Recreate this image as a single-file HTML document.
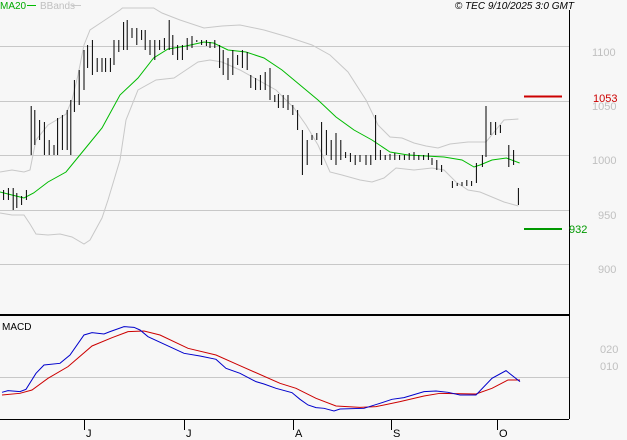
<!DOCTYPE html>
<html><head><meta charset="utf-8"><style>
html,body{margin:0;padding:0;background:#f7f7f7}
svg{display:block}
text{font-family:"Liberation Sans",sans-serif}
</style></head><body>
<svg width="627" height="440" viewBox="0 0 627 440" xmlns="http://www.w3.org/2000/svg">
<rect width="627" height="440" fill="#f7f7f7"/>
<g stroke="#c8c8c8" stroke-width="1" shape-rendering="crispEdges">
<line x1="0" y1="46.5" x2="569" y2="46.5"/>
<line x1="0" y1="101.5" x2="569" y2="101.5"/>
<line x1="0" y1="155.5" x2="569" y2="155.5"/>
<line x1="0" y1="210.5" x2="569" y2="210.5"/>
<line x1="0" y1="264.5" x2="569" y2="264.5"/>
<line x1="0" y1="377.5" x2="569" y2="377.5"/>
</g>
<line x1="569.5" y1="10" x2="569.5" y2="419" stroke="#000" shape-rendering="crispEdges"/>
<line x1="0" y1="315" x2="569" y2="315" stroke="#000" stroke-width="2" shape-rendering="crispEdges"/>
<line x1="0" y1="419.5" x2="569" y2="419.5" stroke="#000" shape-rendering="crispEdges"/>
<g stroke="#000" shape-rendering="crispEdges">
<line x1="84.5" y1="419" x2="84.5" y2="430"/><line x1="184.5" y1="419" x2="184.5" y2="430"/>
<line x1="293.5" y1="419" x2="293.5" y2="430"/><line x1="391.5" y1="419" x2="391.5" y2="430"/>
<line x1="497.5" y1="419" x2="497.5" y2="430"/>
</g>
<g font-size="11" fill="#000">
<text x="86" y="437">J</text><text x="186" y="437">J</text><text x="295" y="437">A</text><text x="393" y="437">S</text><text x="499" y="437">O</text>
</g>
<g transform="scale(1.2,1)" fill="none" stroke-width="1">
<polyline vector-effect="non-scaling-stroke" stroke="#c8c8c8" points="0,172 10,170 20,172 25,170 30,140 40,125 50,118 55,114 60,100 65,75 70,45 75,30 85,22 100,10 102,8 128,8 135,13 150,20 170,28 185,26 200,25 220,30 240,37 260,45 275,55 290,72 305,100 315,125 325,137 335,138 345,143 355,146 365,148 375,144 390,142 405,142 420,120 432,119"/>
<polyline vector-effect="non-scaling-stroke" stroke="#c8c8c8" points="0,213 10,215 20,215 25,224 30,234 40,235 50,234 60,237 70,244 75,240 85,218 90,200 95,180 100,160 105,120 115,90 130,80 145,78 155,70 165,62 175,60 185,62 200,70 215,80 230,90 245,108 255,125 265,145 275,172 285,175 300,180 310,182 320,178 330,168 345,170 360,168 370,170 380,182 390,190 400,192 410,197 420,202 432,206"/>
<polyline vector-effect="non-scaling-stroke" stroke="#00bb00" points="0,192 10,195 20,198 28,193 40,182 55,172 70,150 85,128 100,95 115,78 128,58 140,49 155,46 170,42 178,43 190,50 205,52 220,58 235,70 250,85 265,100 280,117 295,130 310,140 325,152 340,155 355,156 370,157 385,160 395,167 400,165 410,160 422,158 433,163"/>
<path vector-effect="non-scaling-stroke" stroke="#000" d="M3,190V200M7,188V200M11,188V210M14,193V208M18,196V205M22,190V200M26,106V155M29,110V145M33,120V140M37,122V155M41,140V155M45,145V155M48,118V155M52,115V150M56,110V150M59,100V155M62,80V112M66,70V105M70,50V90M73,45V68M77,40V75M81,58V72M85,58V72M88,58V72M92,58V72M95,40V65M99,40V52M103,22V50M106,20V50M110,28V38M114,28V45M118,30V40M121,30V50M125,40V55M129,40V60M133,40V50M137,38V50M141,20V50M144,35V55M148,45V60M152,45V60M156,38V50M160,36V48M164,40V42M168,40V45M172,40V46M175,42V48M179,40V48M183,45V68M186,50V75M190,58V80M194,50V75M198,55V65M202,50V68M206,52V70M209,75V88M213,78V90M217,75V90M221,72V90M225,68V100M229,95V102M232,94V108M236,95V108M240,95V110M244,105V115M248,110V130M252,130V175M256,140V165M260,135V140M264,133V140M268,122V165M272,130V155M276,140V160M280,133V165M284,140V160M288,152V158M292,153V162M296,155V165M300,155V162M305,155V165M309,155V165M313,115V160M317,150V160M321,155V160M325,154V160M329,153V160M333,155V160M337,155V160M341,153V160M345,152V160M349,155V160M353,155V160M357,153V160M360,158V165M364,160V170M368,165V172M377,181V188M381,183V186M385,182V186M389,180V186M393,181V186M397,163V183M402,155V167M405,106V157M409,122V135M413,122V135M417,125V133M424,145V167M428,150V165M432,188V205"/>
</g>
<g transform="translate(0,200) scale(0.4,0.3333)" fill="none">
<polyline vector-effect="non-scaling-stroke" stroke="#cc0000" points="5,585 50,580 80,570 120,535 170,500 230,438 280,413 320,395 360,393 400,405 470,445 540,465 600,497 700,550 740,565 790,595 840,618 900,622 940,620 1000,605 1060,588 1100,580 1190,582 1230,565 1270,540 1300,540"/>
<polyline vector-effect="non-scaling-stroke" stroke="#0000cc" points="5,577 20,572 50,575 65,568 90,520 110,495 150,490 175,465 210,405 230,398 260,402 275,395 310,380 335,382 350,390 370,410 460,460 500,468 540,478 565,505 600,520 640,545 660,552 690,565 730,578 750,598 770,615 790,623 810,625 835,633 850,627 910,625 950,610 980,598 1010,593 1060,575 1090,573 1120,577 1150,585 1190,585 1230,535 1265,512 1300,545"/>
</g>
<line x1="524" y1="96.5" x2="562" y2="96.5" stroke="#cc0000" stroke-width="2"/>
<line x1="524" y1="229" x2="562" y2="229" stroke="#009900" stroke-width="2"/>
<g font-size="11" fill="#c0c0c0">
<text x="592" y="56">1100</text><text x="592" y="110">1050</text><text x="592" y="164">1000</text>
<text x="598" y="219">950</text><text x="598" y="273">900</text>
<text x="600" y="353">020</text><text x="600" y="370">010</text>
</g>
<text x="593" y="102" font-size="11" fill="#cc0000">1053</text>
<text x="569" y="233" font-size="11" fill="#009900">932</text>
<text x="2" y="330" font-size="10" fill="#000">MACD</text>
<text x="0" y="9" font-size="10" fill="#00aa00">MA20</text>
<line x1="27" y1="5.5" x2="36" y2="5.5" stroke="#00bb00"/>
<text x="40" y="9" font-size="10" fill="#c0c0c0">BBands</text>
<line x1="72" y1="5.5" x2="81" y2="5.5" stroke="#c8c8c8"/>
<text x="574" y="9" font-size="10" font-style="italic" fill="#000" text-anchor="end">© TEC 9/10/2025 3:0 GMT</text>
</svg>
</body></html>
